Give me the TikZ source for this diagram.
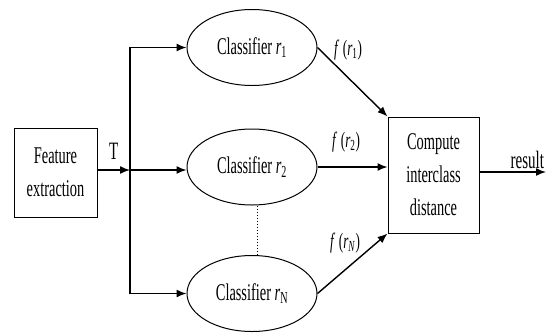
\documentclass[tikz,border=0pt]{standalone}
\usepackage{fontspec}
\setmainfont{Liberation Serif}[FakeStretch=0.6]
\usetikzlibrary{shapes.geometric,arrows.meta,positioning}

\begin{document}
\begin{tikzpicture}[
  x=1pt, y=-1pt,
  block/.style={rectangle, draw, line width=1pt, align=center, inner sep=2pt, font=\fontsize{24}{33}\selectfont},
  classifier/.style={ellipse, draw, line width=1pt, minimum width=130pt, minimum height=76pt, inner sep=0pt, font=\fontsize{24}{28}\selectfont},
  arrow/.style={-{Latex[length=10pt,width=8pt]}, line width=1.4pt},
  flabel/.style={font=\fontsize{22}{24}\selectfont, inner sep=0pt}
]
\useasboundingbox (0,0) rectangle (546,333);

% Input block
\node[block, minimum width=83pt, minimum height=89pt] (feat) at (55.5,172.5) {Feature\\extraction};
\coordinate (split) at (130,170);

% Classifiers
\node[classifier] (c1) at (252,47.5) {Classifier \textit{r}\textsubscript{1}};
\node[classifier] (c2) at (252,167) {Classifier \textit{r}\textsubscript{2}};
\node[classifier] (cN) at (252,293.5) {Classifier \textit{r}\textsubscript{N}};

% Distance block
\node[block, minimum width=91pt, minimum height=116pt] (dist) at (433.5,175) {Compute\\interclass\\distance};
\coordinate (res) at (546,172);

% Feature vector T to the classifiers
\draw[arrow] (feat.east |- split) -- (split) node[midway, above=10pt, font=\fontsize{25}{28}\selectfont, inner sep=0pt] {T};
\draw[arrow] (split) |- (c1);
\draw[arrow] (split) -- (split -| c2.west);
\draw[arrow] (split) |- (cN);
\draw[dotted, line width=1pt] ([xshift=5pt]c2.south) -- ([xshift=5pt]cN.north);

% Classifier outputs
\draw[arrow] (c1.east) -- (dist.north west);
\draw[arrow] (c2.east) -- (c2.east -| dist.west);
\draw[arrow] (cN.east) -- (dist.south west);
\node[flabel] (f1) at (348,50) {\textit{f}\,(\textit{r}\textsubscript{1})};
\node[flabel] (f2) at (346,142) {\textit{f}\,(\textit{r}\textsubscript{2})};
\node[flabel] (fN) at (345,243) {\textit{f}\,(\textit{r}\textsubscript{\textit{N}})};

% Result
\draw[arrow] (dist.east |- res) -- (res) node[pos=0.72, above=3pt, font=\fontsize{25}{28}\selectfont, inner sep=0pt] {result};

\end{tikzpicture}
\end{document}
